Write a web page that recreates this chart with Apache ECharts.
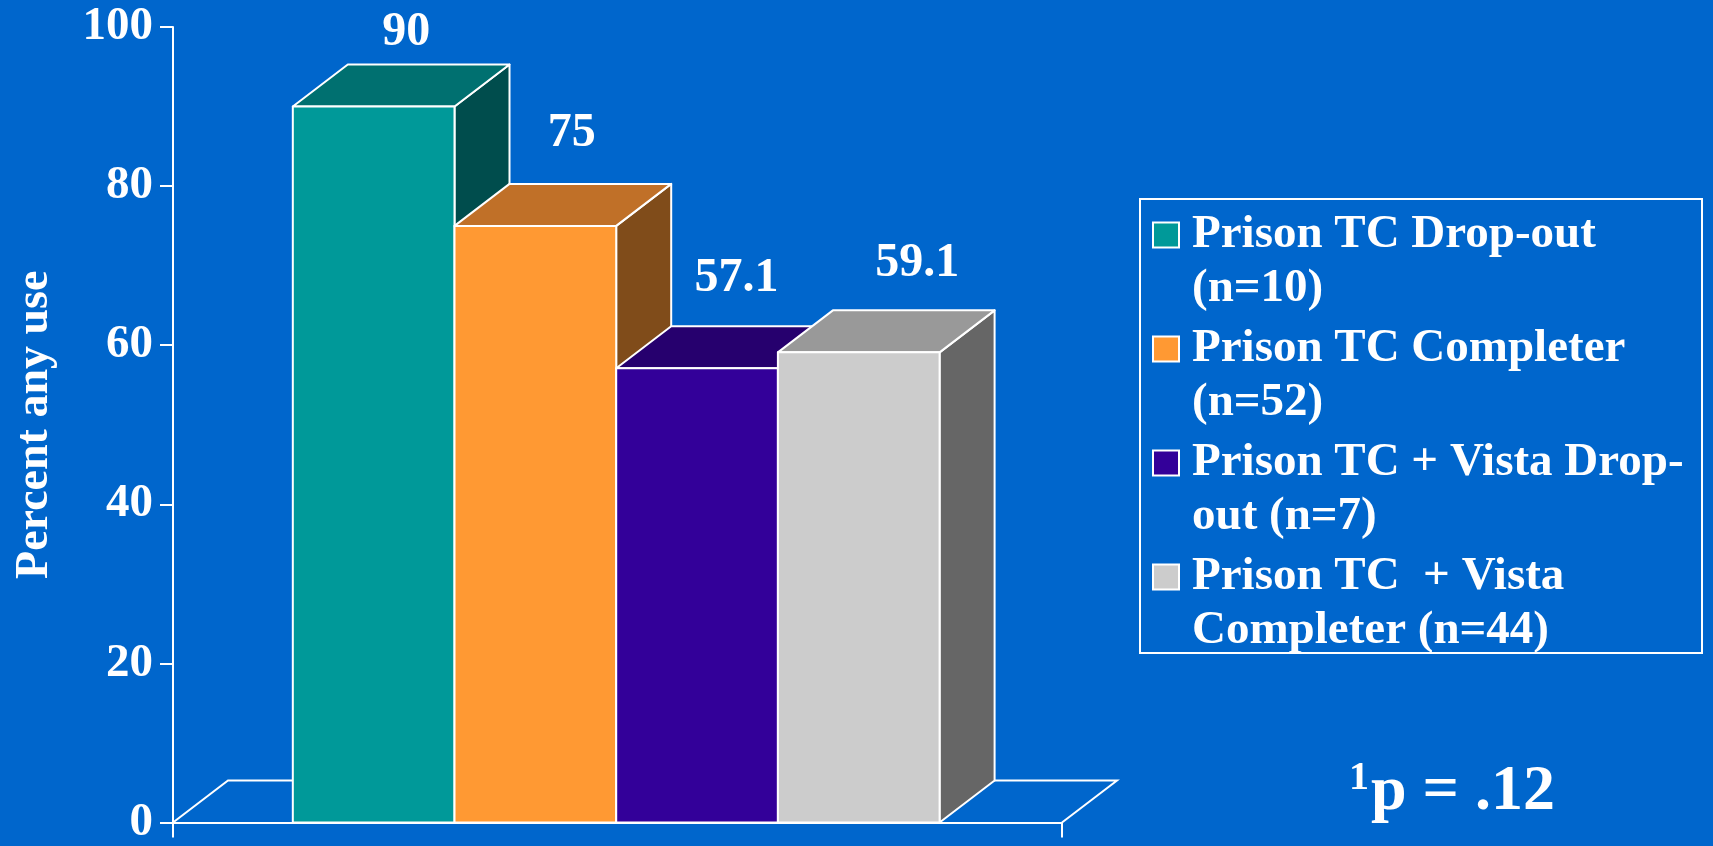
<!DOCTYPE html>
<html><head><meta charset="utf-8">
<script src="https://cdn.jsdelivr.net/npm/echarts@6/dist/echarts.min.js"></script>
<style>html,body{margin:0;padding:0;background:#0066CC;} #c{width:1713px;height:846px;}</style>
</head><body><div id="c"></div>
<script>
// ---- data ----
const groups = ['Prison TC Drop-out\n(n=10)', 'Prison TC Completer\n(n=52)', 'Prison TC + Vista Drop-\nout (n=7)', 'Prison TC  + Vista\nCompleter (n=44)'];
const values = [90, 75, 57.1, 59.1];
const valueLabels = ['90', '75', '57.1', '59.1'];
const yTickLabels = ['0', '20', '40', '60', '80', '100'];
const yAxisTitle = 'Percent any use';
const noteSup = '1';
const noteMain = 'p = .12';

// ---- styles ----
const frontColors = ['#009999', '#FF9933', '#330099', '#CCCCCC'];
const topColors = ['#007070', '#C07028', '#26006E', '#999999'];
const sideColors = ['#004D4D', '#804C1A', '#1A004D', '#666666'];
const labelShift = [[5, 8], [9, 26], [12, 24], [31, 23]]; // [dx, gap above back edge]
const DX = 55, DY = 42;
const FONT = 'Liberation Serif';

const chart = echarts.init(document.getElementById('c'), null, {renderer: 'canvas'});

function barRender(i) {
  return function (params, api) {
    const v = api.value(1);
    const p0 = api.coord([i - 0.5, 0]);
    const p1 = api.coord([i + 0.5, v]);
    const x0 = p0[0], x1 = p1[0], yb = p0[1], yt = p1[1];
    const st = {stroke: '#ffffff', lineWidth: 2, lineJoin: 'round'};
    return {
      type: 'group',
      children: [
        {type: 'polygon', shape: {points: [[x1, yt], [x1 + DX, yt - DY], [x1 + DX, yb - DY], [x1, yb]]}, style: Object.assign({fill: sideColors[i]}, st)},
        {type: 'polygon', shape: {points: [[x0, yt], [x0 + DX, yt - DY], [x1 + DX, yt - DY], [x1, yt]]}, style: Object.assign({fill: topColors[i]}, st)},
        {type: 'polygon', shape: {points: [[x0, yt], [x1, yt], [x1, yb], [x0, yb]]}, style: Object.assign({fill: frontColors[i]}, st)},
        {type: 'text', style: {text: valueLabels[i], x: (x0 + x1) / 2 + DX / 2 + labelShift[i][0], y: yt - DY - labelShift[i][1],
          fill: '#ffffff', font: 'bold 48px "' + FONT + '"', align: 'center', verticalAlign: 'bottom'}}
      ]
    };
  };
}

const XMIN = -1.241, XMAX = 4.257;

const series = [{
  type: 'custom',
  name: 'floor',
  coordinateSystem: 'cartesian2d',
  xAxisIndex: 1, yAxisIndex: 0,
  clip: false, z: 1, silent: true,
  data: [[0, 0]],
  renderItem: function (params, api) {
    const a = api.coord([XMIN, 0]);
    const b = api.coord([XMAX, 0]);
    return {type: 'polyline', shape: {points: [[a[0], a[1]], [a[0] + DX, a[1] - DY], [b[0] + DX, b[1] - DY], [b[0], b[1]]]},
      style: {stroke: '#ffffff', lineWidth: 2, fill: null}};
  }
}];
groups.forEach(function (g, i) {
  series.push({
    type: 'custom',
    name: g,
    coordinateSystem: 'cartesian2d',
    xAxisIndex: 1, yAxisIndex: 0,
    clip: false, z: 2 + i,
    itemStyle: {color: frontColors[i]},
    data: [[i, values[i]]],
    renderItem: barRender(i)
  });
});

const option = {
  backgroundColor: '#0066CC',
  animation: false,
  grid: {left: 173, top: 27, width: 889, height: 800, containLabel: false},
  xAxis: [
    {type: 'category', data: [''], boundaryGap: true,
     axisLine: {show: true, onZero: false, lineStyle: {color: '#ffffff', width: 2}},
     axisTick: {show: true, length: 15, lineStyle: {color: '#ffffff', width: 2}},
     axisLabel: {show: false}, splitLine: {show: false}},
    {type: 'value', min: XMIN, max: XMAX, show: false, axisLine: {onZero: false}}
  ],
  yAxis: {
    type: 'value', min: 0, max: 100, interval: 20,
    axisLine: {show: true, onZero: false, lineStyle: {color: '#ffffff', width: 2}},
    axisTick: {show: true, length: 13, lineStyle: {color: '#ffffff', width: 2}},
    axisLabel: {color: '#ffffff', fontFamily: FONT, fontWeight: 'bold', fontSize: 47, margin: 20,
      formatter: function (v) { return yTickLabels[Math.round(v / 20)]; }},
    splitLine: {show: false},
    name: yAxisTitle, nameLocation: 'middle', nameRotate: 90, nameGap: 115,
    nameTextStyle: {color: '#ffffff', fontFamily: FONT, fontWeight: 'bold', fontSize: 46}
  },
  legend: {
    data: groups,
    orient: 'vertical',
    left: 1152, top: 154,
    padding: 0,
    itemGap: -48,
    itemWidth: 26, itemHeight: 25,
    icon: 'rect',
    selectedMode: false,
    formatter: function (name) { return '\n' + name; },
    itemStyle: {borderColor: '#ffffff', borderWidth: 2},
    textStyle: {color: '#ffffff', fontFamily: FONT, fontWeight: 'bold', fontSize: 47, lineHeight: 54, padding: [0, 0, 0, 8]}
  },
  graphic: [
    {type: 'rect', shape: {x: 1140, y: 199, width: 562, height: 454}, style: {stroke: '#ffffff', lineWidth: 2, fill: null}, silent: true},
    {type: 'text', left: 1349, top: 759, style: {text: noteSup, fill: '#ffffff', font: 'bold 40px "' + FONT + '"'}},
    {type: 'text', left: 1371, top: 760, style: {text: noteMain, fill: '#ffffff', font: 'bold 64px "' + FONT + '"'}}
  ],
  series: series
};
chart.setOption(option);
</script>
</body></html>
